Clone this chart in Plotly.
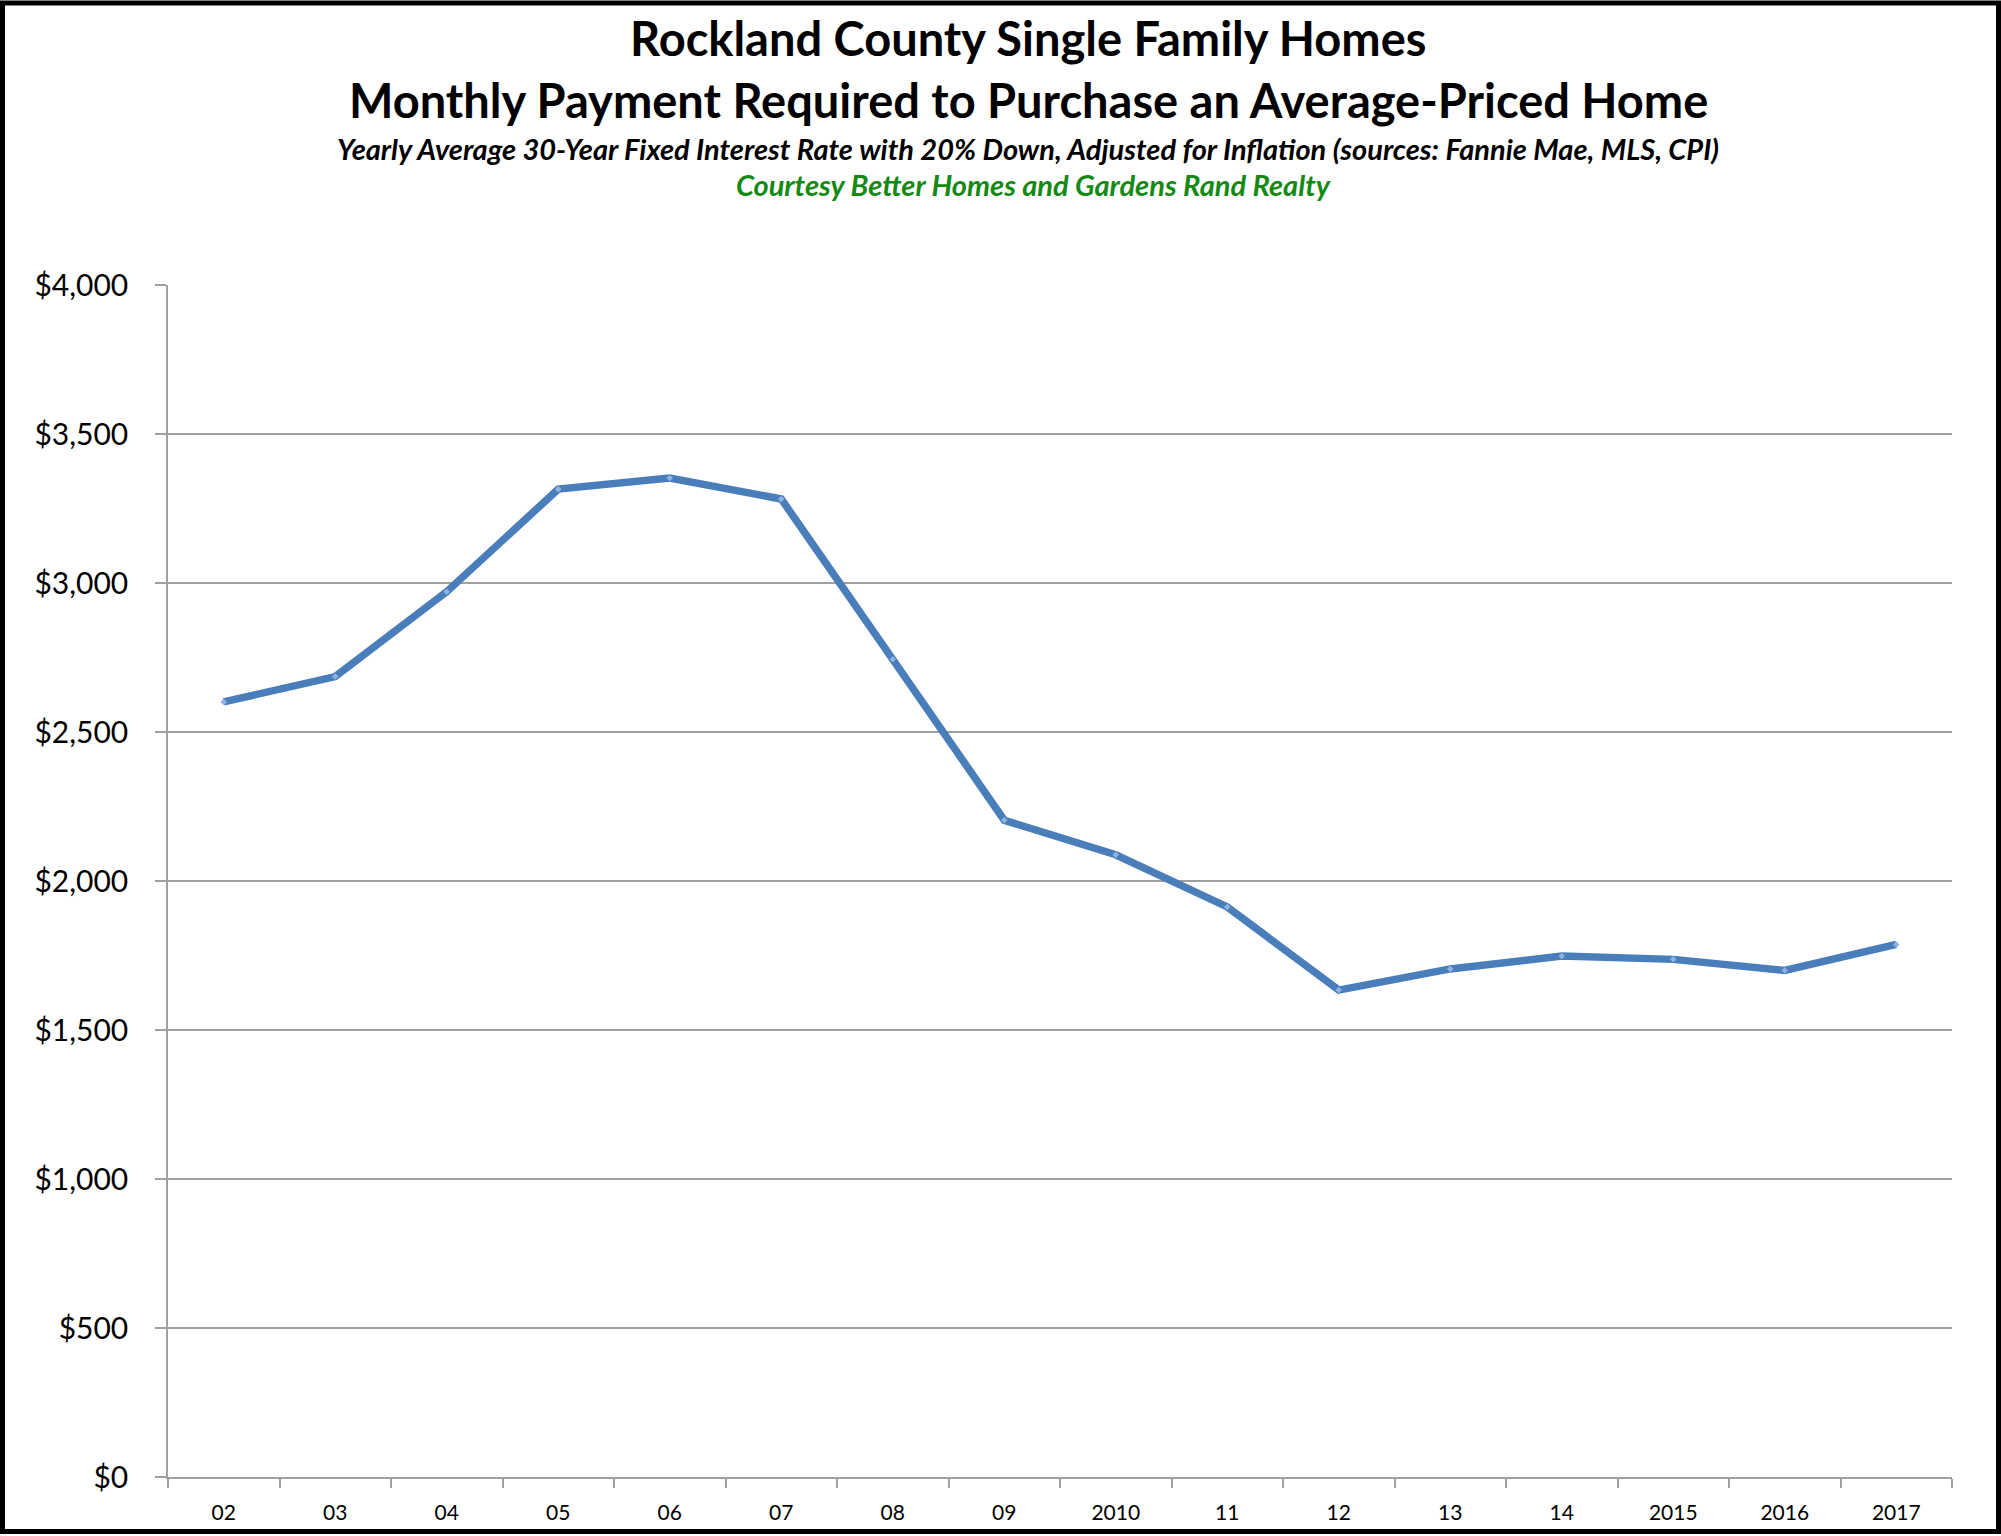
import plotly.graph_objects as go

years = ["02", "03", "04", "05", "06", "07", "08", "09", "2010", "11",
         "12", "13", "14", "2015", "2016", "2017"]
payment = [2601, 2686, 2971, 3315, 3352, 3282, 2744, 2204, 2088, 1913,
           1634, 1705, 1748, 1737, 1700, 1787]
y_ticks = [0, 500, 1000, 1500, 2000, 2500, 3000, 3500, 4000]
y_tick_text = ["$" + format(v, ",") for v in y_ticks]

W, H = 2001, 1536
L, R, T, B = 168, 49, 285, 57
PW, PH = W - L - R, H - T - B

def px_x(px):
    return (px - L) / PW

def px_y(py):
    return (H - B - py) / PH

FONT = "Lato"

fig = go.Figure()
fig.add_trace(go.Scatter(
    x=years, y=payment, mode="lines+markers",
    line=dict(color="#4a7ebb", width=7.5),
    marker=dict(symbol="diamond", size=5, color="#8db3e2",
                line=dict(width=0)),
    showlegend=False,
))

annotations = [
    dict(text="<b>Rockland County Single Family Homes</b>", x=px_x(1028), y=px_y(38),
         font=dict(size=47, color="black", family=FONT)),
    dict(text="<b>Monthly Payment Required to Purchase an Average-Priced Home</b>",
         x=px_x(1028), y=px_y(100), font=dict(size=47, color="black", family=FONT)),
    dict(text="<b><i>Yearly Average 30-Year Fixed Interest Rate with 20% Down, Adjusted for Inflation (sources: Fannie Mae, MLS, CPI)</i></b>",
         x=px_x(1028), y=px_y(148), font=dict(size=29, color="black", family=FONT)),
    dict(text="<b><i>Courtesy Better Homes and Gardens Rand Realty</i></b>",
         x=px_x(1033), y=px_y(184), font=dict(size=29, color="#138a13", family=FONT)),
]
for a in annotations:
    a.update(xref="paper", yref="paper", xanchor="center", yanchor="middle",
             showarrow=False)

fig.update_layout(
    width=W, height=H,
    margin=dict(l=L, r=R, t=T, b=B),
    paper_bgcolor="white", plot_bgcolor="white",
    annotations=annotations,
    shapes=[dict(type="rect", xref="paper", yref="paper",
                 x0=px_x(2.5), x1=px_x(W - 2.5), y0=px_y(2.5), y1=px_y(H - 2.5),
                 line=dict(color="black", width=5), layer="above")],
    font=dict(family=FONT, color="black"),
)
fig.update_xaxes(
    type="category", range=[-0.5, len(years) - 0.5],
    showline=True, linecolor="#a0a0a0", linewidth=1.5,
    ticks="outside", tickson="boundaries", ticklen=9, tickcolor="#a0a0a0",
    tickwidth=1.5, showgrid=False,
    tickfont=dict(size=21, color="black", family=FONT),
    ticklabelstandoff=16,
)
fig.update_yaxes(
    range=[0, 4000], tickmode="array", tickvals=y_ticks, ticktext=y_tick_text,
    showline=True, linecolor="#a0a0a0", linewidth=1.5,
    ticks="outside", ticklen=11, tickcolor="#a0a0a0", tickwidth=1.5,
    showgrid=True, gridcolor="#a0a0a0", gridwidth=1.5,
    zeroline=False,
    tickfont=dict(size=30, color="black", family=FONT),
    ticklabelstandoff=21,
)

fig.write_html("out.html", config={"displayModeBar": False},
               post_script="document.body.style.margin='0';document.body.style.overflow='hidden';")
